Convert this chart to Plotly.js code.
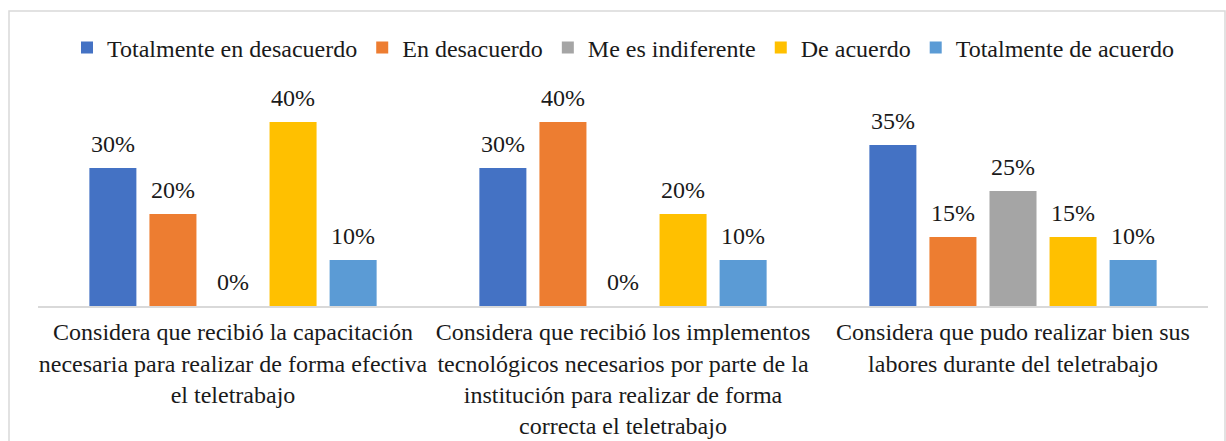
<!DOCTYPE html>
<html><head><meta charset="utf-8">
<script src="https://cdn.plot.ly/plotly-3.0.1.min.js"></script>
<style>html,body{margin:0;padding:0;background:#fff;}#chart{width:1226px;height:441px;}</style>
</head><body><div id="chart"></div>
<script>
const categories = [
  "Considera que recibió la capacitación<br>necesaria para realizar de forma efectiva<br>el teletrabajo",
  "Considera que recibió los implementos<br>tecnológicos necesarios por parte de la<br>institución para realizar de forma<br>correcta el teletrabajo",
  "Considera que pudo realizar bien sus<br>labores durante del teletrabajo"
];
const seriesNames = ["Totalmente en desacuerdo","En desacuerdo","Me es indiferente","De acuerdo","Totalmente de acuerdo"];
const totalDesacuerdo = [0.30, 0.30, 0.35];
const desacuerdo = [0.20, 0.40, 0.15];
const indiferente = [0.00, 0.00, 0.25];
const deAcuerdo = [0.40, 0.20, 0.15];
const totalAcuerdo = [0.10, 0.10, 0.10];
const colors = ["#4472C4","#ED7D31","#A5A5A5","#FFC000","#5B9BD5"];

const values = [totalDesacuerdo, desacuerdo, indiferente, deAcuerdo, totalAcuerdo];
const FONT = "Liberation Serif";
const FS = 24;
const TXT = '#1a1a1a';
const bars = values.map((v,i)=>({
  type:'bar', name: seriesNames[i], x: categories, y: v,
  marker:{color: colors[i]}, offsetgroup: 'g'+i,
  hoverinfo:'none'
}));
const labels = values.map((v,i)=>({
  type:'scatter', mode:'markers+text', x: categories, y: v, offsetgroup: 'g'+i,
  text: v.map(d=>Math.round(d*100)+'%'), textposition:'top center',
  textfont:{family:FONT, size:FS, color:TXT},
  marker:{size:15, opacity:0}, showlegend:false, cliponaxis:false, hoverinfo:'none'
}));

const L=38, R=18, T=99, B=135, W=1226, H=441;
const pw=W-L-R, ph=H-T-B;
const layout = {
  width:W, height:H,
  margin:{l:L, r:R, t:T, b:B, pad:0},
  paper_bgcolor:'#fff', plot_bgcolor:'#fff',
  barmode:'group', bargap:0.23, bargroupgap:0.217,
  scattermode:'group', scattergap:0.23,
  font:{family:FONT, size:FS, color:TXT},
  showlegend:true,
  legend:{orientation:'h', x:0.5, xanchor:'center', y:1+(T-48)/ph, yanchor:'middle',
    font:{family:FONT, size:FS, color:TXT}, itemwidth:30, tracegroupgap:0, traceorder:'normal'},
  xaxis:{showline:true, linecolor:'#d9d9d9', linewidth:1.5, ticks:'', showgrid:false,
    ticklabelstandoff:4,
    tickfont:{family:FONT, size:FS, color:TXT}, automargin:false},
  yaxis:{range:[0,0.45], visible:false, showgrid:false, zeroline:false},
  shapes:[{type:'rect', xref:'paper', yref:'paper',
    x0:(9-L)/pw, x1:(1225-L)/pw, y0:(H-B-445)/ph, y1:(H-B-11)/ph,
    line:{color:'#d9d9d9', width:1.5}, fillcolor:'rgba(0,0,0,0)', layer:'below'}]
};
Plotly.newPlot('chart', bars.concat(labels), layout, {staticPlot:true});
</script></body></html>
